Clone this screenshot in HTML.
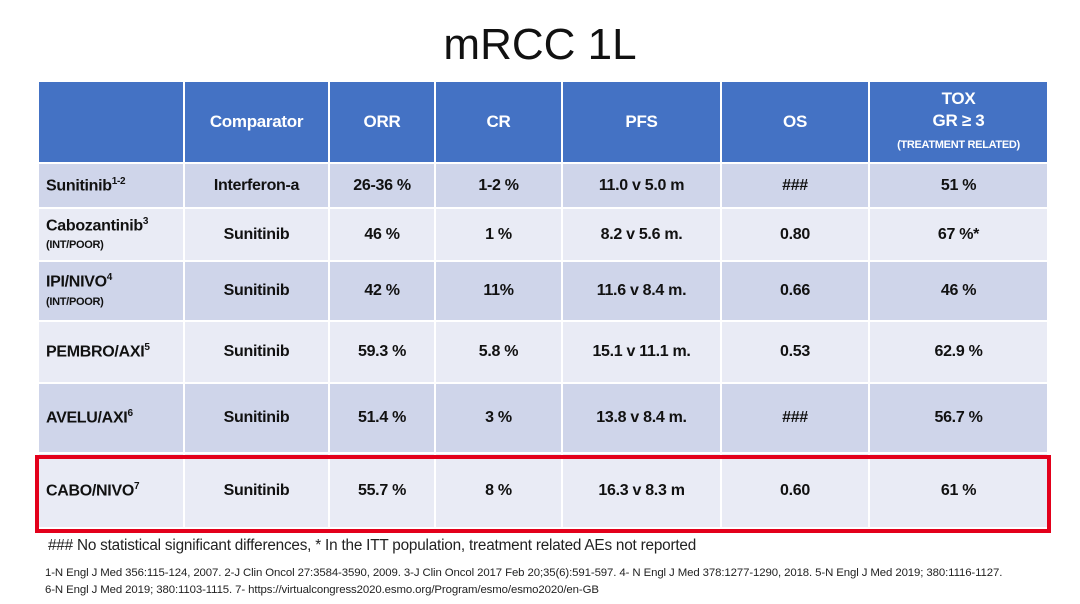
<!DOCTYPE html>
<html><head><meta charset="utf-8"><style>
body{margin:0;width:1080px;height:604px;background:#fff;font-family:"Liberation Sans",sans-serif;position:relative;overflow:hidden}
.title{position:absolute;left:0;width:1080px;top:20px;text-align:center;font-size:44px;color:#111}
table{position:absolute;left:37px;top:80px;border-collapse:collapse;table-layout:fixed}
td{border:2px solid #fff;text-align:center;font-weight:bold;font-size:16px;color:#111;padding:0;letter-spacing:-0.3px}
td:first-child{text-align:left;padding-left:7px}
tr.h td{background:#4472c4;color:#fff;font-size:17px}
tr.d td{background:#cfd5ea}
tr.l td{background:#e9ebf5}
sup{font-size:10px;font-weight:bold}
.s{font-size:11px}
.red{position:absolute;left:35px;top:455px;width:1008px;height:70px;border:4px solid #e3001b}
.n1{position:absolute;left:48px;top:537px;font-size:15.3px;color:#222;letter-spacing:-0.2px}
.n2{position:absolute;left:45px;top:565px;font-size:11.4px;color:#222;line-height:17px;letter-spacing:-0.1px}
</style></head><body>
<div class="title">mRCC 1L</div>
<table>
<colgroup><col style="width:146px"><col style="width:145px"><col style="width:106px"><col style="width:127px"><col style="width:159px"><col style="width:148px"><col style="width:179px"></colgroup>
<tr class="h" style="height:82px"><td></td><td>Comparator</td><td>ORR</td><td>CR</td><td>PFS</td><td>OS</td><td style="line-height:22px">TOX<br>GR ≥ 3<br><span style="font-size:11px">(TREATMENT RELATED)</span></td></tr>
<tr class="d" style="height:45px"><td>Sunitinib<sup>1-2</sup></td><td>Interferon-a</td><td>26-36 %</td><td>1-2 %</td><td>11.0 v 5.0 m</td><td>###</td><td>51 %</td></tr>
<tr class="l" style="height:53px"><td>Cabozantinib<sup>3</sup><br><span class="s">(INT/POOR)</span></td><td>Sunitinib</td><td>46 %</td><td>1 %</td><td>8.2 v 5.6 m.</td><td>0.80</td><td>67 %*</td></tr>
<tr class="d" style="height:60px"><td>IPI/NIVO<sup>4</sup><br><span class="s">(INT/POOR)</span></td><td>Sunitinib</td><td>42 %</td><td>11%</td><td>11.6 v 8.4 m.</td><td>0.66</td><td>46 %</td></tr>
<tr class="l" style="height:62px"><td>PEMBRO/AXI<sup>5</sup></td><td>Sunitinib</td><td>59.3 %</td><td>5.8 %</td><td>15.1 v 11.1 m.</td><td>0.53</td><td>62.9 %</td></tr>
<tr class="d" style="height:70px"><td>AVELU/AXI<sup>6</sup></td><td>Sunitinib</td><td>51.4 %</td><td>3 %</td><td>13.8 v 8.4 m.</td><td>###</td><td>56.7 %</td></tr>
<tr class="l" style="height:75px"><td>CABO/NIVO<sup>7</sup></td><td>Sunitinib</td><td>55.7 %</td><td>8 %</td><td>16.3 v 8.3 m</td><td>0.60</td><td>61 %</td></tr>
</table>
<div class="red"></div>
<div class="n1">### No statistical significant differences, * In the ITT population, treatment related AEs not reported</div>
<div class="n2">1-N Engl J Med 356:115-124, 2007. 2-J Clin Oncol 27:3584-3590, 2009. 3-J Clin Oncol 2017 Feb 20;35(6):591-597. 4- N Engl J Med 378:1277-1290, 2018. 5-N Engl J Med 2019; 380:1116-1127.<br>6-N Engl J Med 2019; 380:1103-1115. 7- https://virtualcongress2020.esmo.org/Program/esmo/esmo2020/en-GB</div>
</body></html>
